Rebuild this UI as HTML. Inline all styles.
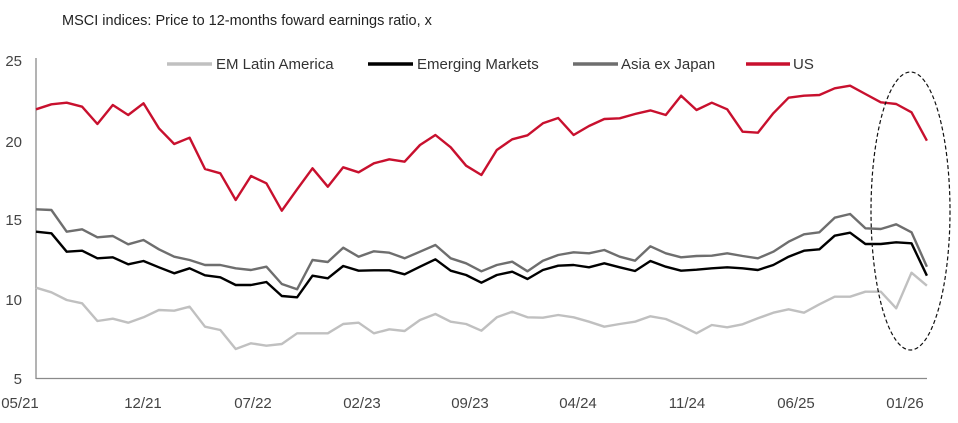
<!DOCTYPE html>
<html><head><meta charset="utf-8"><style>
html,body{margin:0;padding:0;background:#fff;}
svg{display:block;font-family:"Liberation Sans",Arial,sans-serif;}
</style></head><body>
<svg width="958" height="423" viewBox="0 0 958 423" xmlns="http://www.w3.org/2000/svg">
<text x="62" y="25" font-size="14.5" fill="#222">MSCI indices: Price to 12-months foward earnings ratio, x</text>
<g font-size="15" fill="#444" text-anchor="end">
<text x="22" y="66">25</text><text x="22" y="147">20</text><text x="22" y="225">15</text><text x="22" y="305">10</text><text x="22" y="384">5</text>
</g>
<line x1="36" y1="58" x2="36" y2="379" stroke="#8a8a8a" stroke-width="1.3"/>
<line x1="36" y1="378.5" x2="927" y2="378.5" stroke="#8a8a8a" stroke-width="1.3"/>
<g font-size="15" fill="#444" text-anchor="middle">
<text x="20" y="408">05/21</text><text x="143" y="408">12/21</text><text x="253" y="408">07/22</text><text x="362" y="408">02/23</text><text x="470" y="408">09/23</text><text x="578" y="408">04/24</text><text x="687" y="408">11/24</text><text x="796" y="408">06/25</text><text x="905" y="408">01/26</text>
</g>
<g font-size="15" fill="#333">
<line x1="167" y1="64" x2="212" y2="64" stroke="#c0c0c0" stroke-width="3.5"/><text x="216" y="69">EM Latin America</text>
<line x1="368" y1="64" x2="413" y2="64" stroke="#000" stroke-width="3.5"/><text x="417" y="69">Emerging Markets</text>
<line x1="573" y1="64" x2="618" y2="64" stroke="#6e6e6e" stroke-width="3.5"/><text x="621" y="69">Asia ex Japan</text>
<line x1="746" y1="64" x2="790" y2="64" stroke="#c8102e" stroke-width="3.5"/><text x="793" y="69">US</text>
</g>
<g fill="none" stroke-width="2.4" stroke-linejoin="round" id="series"></g>
<ellipse cx="910.5" cy="211" rx="39.5" ry="139" fill="none" stroke="#111" stroke-width="1.2" stroke-dasharray="4,2.5"/>
</svg>
<script>
var us=[109.3,104.3,102.7,106.7,124,105,115,103.3,128.3,144,137.7,169,173.3,200,176,183.3,210.7,189.3,168.3,186.7,167.3,172.3,163.3,159.3,161.7,145,135,147.3,165.7,175,150,139.3,135.3,123.3,118,135,126,119,118.3,114,110.4,115,95.7,110,102.7,109.3,131.7,132.7,113.3,97.7,95.7,95,88.3,85.7,94,102.3,104,112.3,140.7];
var asia=[209.3,210,231.7,229.3,237.3,236,244.3,240,249.3,256.7,260,265,265,268.3,270,266.7,284,289.3,260,262,247.7,256.7,251.3,252.7,258.3,251.7,245,258.3,263.3,271.3,265,261.7,271.3,260.7,255,252.3,253.3,250,256.7,260.7,246.3,253.3,257.3,256,255.7,253.3,256,258.3,251.7,241.7,234.3,232.3,217.7,214,228.3,229,224.3,232.3,266.7];
var em=[231.7,233.3,251.7,250.7,258.3,257.3,264.3,261,267.3,273.3,268.3,275.3,277.3,285,285,282,296,297.3,275.7,278.3,266,270.7,270.3,270.3,274.3,266.7,259.3,270.7,275,282.7,275,271.7,279,270,265.7,265,267.3,263.3,267.3,271,261,266.7,270.7,269.7,268.3,267.3,268.3,270,265,256.7,250.7,249.3,235.7,232.7,244,244,242.3,243.3,275.7];
var lat=[287.7,292.3,300,303.3,321,318.7,322.7,317.3,310,310.7,306.7,326.7,330,349,343.3,345.7,344,333.3,333.3,333.3,324,322.7,333.3,329.3,331,320,314,321.7,324,330.7,317.3,311.7,317.3,317.7,315,317.3,321.7,326.7,324,321.7,316.3,319,325.7,333.3,325,327.3,324.3,318.3,312.7,309.3,312.7,304.3,296.7,296.7,291.7,291.7,308.3,272.7,285.7];
function pts(a){return a.map(function(y,i){return (36+i*15.36).toFixed(1)+","+y}).join(" ");}
var g=document.getElementById("series"),ns="http://www.w3.org/2000/svg";
[[lat,"#c0c0c0"],[asia,"#6e6e6e"],[em,"#000"],[us,"#c8102e"]].forEach(function(s){var p=document.createElementNS(ns,"polyline");p.setAttribute("points",pts(s[0]));p.setAttribute("stroke",s[1]);g.appendChild(p);});
</script>
</body></html>
